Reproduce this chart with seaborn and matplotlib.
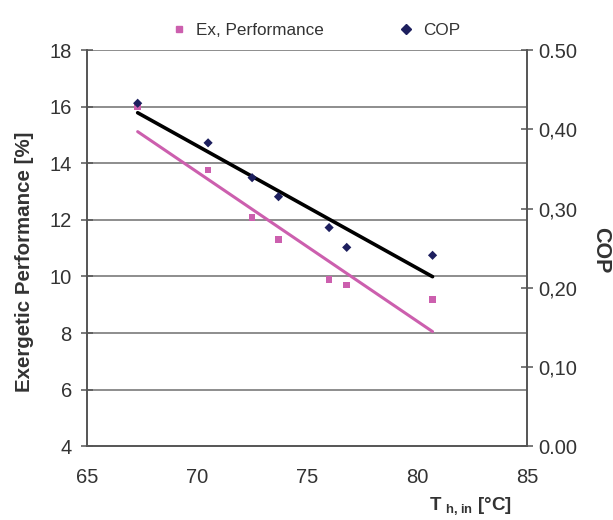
import matplotlib
matplotlib.use("Agg")
import matplotlib.pyplot as plt
import seaborn as sns

# data
t_hin = [67.3, 70.5, 72.5, 73.7, 76.0, 76.8, 80.7]
ex_perf = [16.0, 13.77, 12.08, 11.3, 9.9, 9.7, 9.18]
cop = [0.433, 0.383, 0.339, 0.315, 0.276, 0.251, 0.241]

# trend lines (end points)
trend_x = [67.3, 80.7]
ex_trend = [15.12, 8.05]
cop_trend = [0.421, 0.214]

pink = "#cc5fae"
navy = "#1d1f5e"
txt = "#333333"

sns.set_style("white")
plt.rcParams["font.family"] = ["Liberation Sans", "DejaVu Sans"]

fig = plt.figure(figsize=(6.13, 5.2), dpi=100)
ax = fig.add_axes([0.142, 0.142, 0.718, 0.7615])
ax2 = ax.twinx()

for y in [6, 8, 10, 12, 14, 16, 18]:
    ax.axhline(y, color="#7a7a7a", lw=1.2, zorder=0)

sns.lineplot(x=trend_x, y=ex_trend, ax=ax, color=pink, lw=2.2, zorder=2)
sns.scatterplot(x=t_hin, y=ex_perf, ax=ax, color=pink, marker="s", s=22,
                edgecolor="none", zorder=3)
sns.lineplot(x=trend_x, y=cop_trend, ax=ax2, color="black", lw=2.6, zorder=2)
sns.scatterplot(x=t_hin, y=cop, ax=ax2, color=navy, marker="D", s=22,
                edgecolor="none", zorder=4)

ax.set_xlim(65, 85)
ax.set_ylim(4, 18)
ax2.set_ylim(0, 0.5)
ax.set_xticks([65, 70, 75, 80, 85])
ax.set_yticks([4, 6, 8, 10, 12, 14, 16, 18])
ax2.set_yticks([0, 0.1, 0.2, 0.3, 0.4, 0.5])
ax2.set_yticklabels(["0.00", "0,10", "0,20", "0,30", "0,40", "0.50"])

for a in (ax, ax2):
    for s in a.spines.values():
        s.set_color("#555555")
        s.set_linewidth(1.2)
    a.spines["top"].set_visible(False)
ax.tick_params(axis="x", direction="inout", length=8, width=1.1,
               colors="#555555", labelcolor=txt, labelsize=14.5, pad=12)
ax.tick_params(axis="y", direction="inout", length=8, width=1.1,
               colors="#555555", labelcolor=txt, labelsize=14.5, pad=7)
ax2.tick_params(axis="y", direction="inout", length=8, width=1.1,
                colors="#555555", labelcolor=txt, labelsize=14.5, pad=4)

ax.set_ylabel("Exergetic Performance [%]", fontsize=14.8, fontweight="bold",
              color=txt)
ax.yaxis.set_label_coords(-0.12, 0.465)
ax2.set_ylabel("COP", fontsize=15.5, fontweight="bold", color=txt,
               rotation=270, labelpad=22)
ax2.yaxis.set_label_coords(1.19, 0.495)
ax.set_xlabel(r"T $_{\mathregular{h,in}}$ [°C]", fontsize=13.5, fontweight="bold",
              color=txt)
ax.xaxis.set_label_coords(0.87, -0.125)

h1 = plt.Line2D([], [], color=pink, marker="s", ls="none", markersize=5)
h2 = plt.Line2D([], [], color=navy, marker="D", ls="none", markersize=5)
fig.legend([h1, h2], ["Ex, Performance", "COP"], loc="upper center",
           bbox_to_anchor=(0.508, 0.985), ncol=2, frameon=False, fontsize=12.3,
           handletextpad=0.0, columnspacing=3.8, labelcolor=txt)

fig.savefig("out.png", dpi=100)
